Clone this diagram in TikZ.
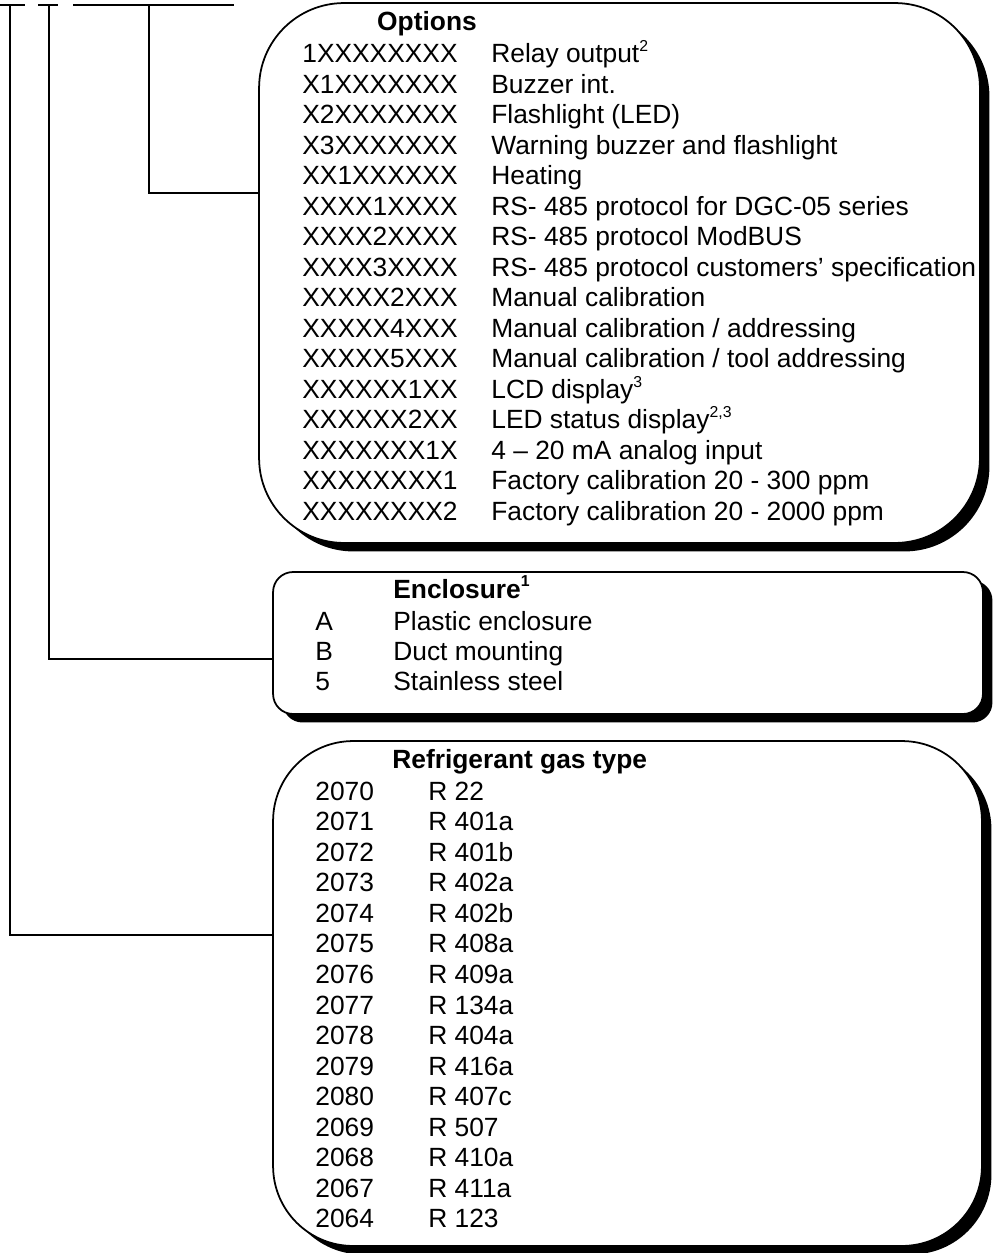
\documentclass[tikz,border=0pt]{standalone}
\usepackage{fontspec}
\setmainfont{Liberation Sans}
\usetikzlibrary{shadows}

\newcommand{\supnote}[1]{\raisebox{0.42em}{\fontsize{9}{9}\selectfont #1}}

\tikzset{
  gasbox/.style={draw, line width=1pt, fill=white,
    drop shadow={shadow xshift=0.19cm, shadow yshift=-0.17cm, fill=black, opacity=1}},
  lbl/.style={anchor=base west, inner sep=0pt},
  head/.style={lbl, font=\fontsize{15}{17}\selectfont\bfseries},
  wire/.style={line width=1.1pt},
}

\begin{document}
\begin{tikzpicture}[x=0.02cm, y=-0.02cm, font=\fontsize{15}{17}\selectfont]
  \useasboundingbox (0,0) rectangle (994,1253);

  % the three boxes
  \node[gasbox, minimum width=14.42cm, minimum height=10.8cm, rounded corners=1.7cm] (optbox) at (619.5,273) {};
  \node[gasbox, minimum width=14.2cm, minimum height=2.84cm, rounded corners=0.4cm] (encbox) at (628,643) {};
  \node[gasbox, minimum width=14.18cm, minimum height=10.1cm, rounded corners=1.6cm] (refbox) at (627.5,993.5) {};

  % code bars at the top
  \draw[wire] (0,5) -- (25,5);
  \draw[wire] (38,5) -- (58,5);
  \draw[wire] (73,5) -- (234,5);
  \coordinate (t1) at (10,5);
  \coordinate (t2) at (49,5);
  \coordinate (t3) at (149,5);
  \coordinate (optin) at (optbox.west |- 0,193);
  \coordinate (encin) at (encbox.west |- 0,659);
  \coordinate (refin) at (refbox.west |- 0,935);
  \draw[wire] (t3) |- (optin);
  \draw[wire] (t2) |- (encin);
  \draw[wire] (t1) |- (refin);

  % options
  \node[head, anchor=base] (opthead) at (427,31) {Options};
  \foreach \code/\txt [count=\i] in {
      1XXXXXXXX/{Relay output\supnote{2}},
      X1XXXXXXX/{Buzzer int.},
      X2XXXXXXX/{Flashlight (LED)},
      X3XXXXXXX/{Warning buzzer and flashlight},
      XX1XXXXXX/{Heating},
      XXXX1XXXX/{RS- 485 protocol for DGC-05 series},
      XXXX2XXXX/{RS- 485 protocol ModBUS},
      XXXX3XXXX/{RS- 485 protocol customers’ specification},
      XXXXX2XXX/{Manual calibration},
      XXXXX4XXX/{Manual calibration / addressing},
      XXXXX5XXX/{Manual calibration / tool addressing},
      XXXXXX1XX/{LCD display\supnote{3}},
      XXXXXX2XX/{LED status display\supnote{2,3}},
      XXXXXXX1X/{4 – 20 mA analog input},
      XXXXXXXX1/{Factory calibration 20 - 300 ppm},
      XXXXXXXX2/{Factory calibration 20 - 2000 ppm}} {
    \node[lbl] (oc\i) at (302,{63+30.47*(\i-1)}) {\code};
    \node[lbl] (od\i) at (491,{63+30.47*(\i-1)}) {\txt};
  }

  % enclosure
  \node[head] (enchead) at (393,598) {Enclosure\supnote{\bfseries 1}};
  \foreach \code/\txt [count=\i] in {A/Plastic enclosure, B/Duct mounting, 5/Stainless steel} {
    \node[lbl] (ec\i) at (315,{630+30*(\i-1)}) {\code};
    \node[lbl] (ed\i) at (393,{630+30*(\i-1)}) {\txt};
  }

  % refrigerant
  \node[head] (refhead) at (392,768) {Refrigerant gas type};
  \foreach \code/\txt [count=\i] in {2070/R 22, 2071/R 401a, 2072/R 401b, 2073/R 402a,
      2074/R 402b, 2075/R 408a, 2076/R 409a, 2077/R 134a, 2078/R 404a, 2079/R 416a,
      2080/R 407c, 2069/R 507, 2068/R 410a, 2067/R 411a, 2064/R 123} {
    \node[lbl] (rc\i) at (315,{800+30.57*(\i-1)}) {\code};
    \node[lbl] (rd\i) at (428,{800+30.57*(\i-1)}) {\txt};
  }
\end{tikzpicture}
\end{document}
